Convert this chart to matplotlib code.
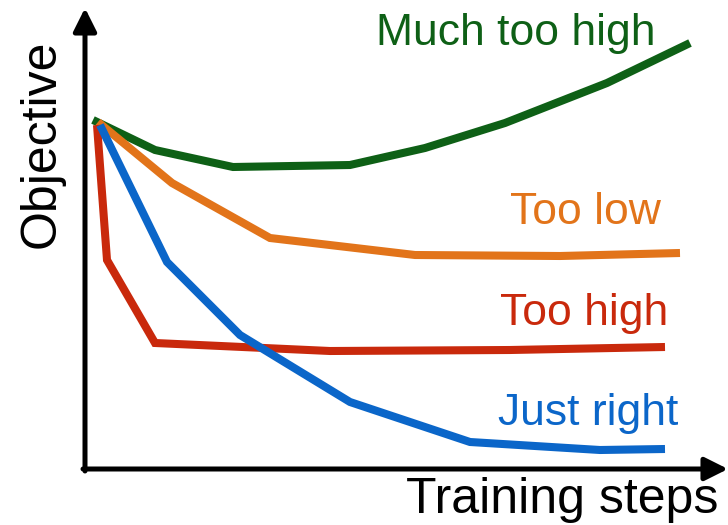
import matplotlib
matplotlib.use('Agg')
from matplotlib import pyplot as plt

plt.rcParams['font.family'] = ['Liberation Sans', 'DejaVu Sans']

# curves (x = training steps, y = objective)
green_x = [8, 70, 148, 265, 340, 420, 522, 605]
green_y = [349, 319, 302, 304, 321, 346, 386, 426]
orange_x = [13, 87, 185, 330, 475, 595]
orange_y = [347, 286, 231, 214, 213, 216]
red_x = [12, 22, 70, 245, 425, 580]
red_y = [344, 209, 126, 118, 119, 122]
blue_x = [15, 82, 155, 265, 385, 515, 580]
blue_y = [344, 207, 134, 67, 27, 19, 20]

labels = ['Much too high', 'Too low', 'Too high', 'Just right']
colors = ['#0e6016', '#e2741a', '#c9290c', '#0b66c9']

fig = plt.figure(figsize=(7.28, 5.25), dpi=100)
ax = fig.add_axes([0, 0, 1, 1])
ax.set_xlim(-85, 643)
ax.set_ylim(-56, 469)
ax.axis('off')

lw = 5.8
ax.plot(green_x, green_y, color=colors[0], lw=lw, solid_joinstyle='miter', solid_capstyle='butt')
ax.plot(orange_x, orange_y, color=colors[1], lw=lw, solid_joinstyle='miter', solid_capstyle='butt')
ax.plot(red_x, red_y, color=colors[2], lw=lw, solid_joinstyle='miter', solid_capstyle='butt')
ax.plot(blue_x, blue_y, color=colors[3], lw=lw, solid_joinstyle='miter', solid_capstyle='butt')

# axes with arrow heads
arr = dict(arrowstyle='-|>,head_length=1.4,head_width=0.7', lw=3.6, color='black',
           shrinkA=0, shrinkB=0)
ax.annotate('', xy=(0, 461), xytext=(0, -2), arrowprops=arr)
ax.annotate('', xy=(643, 0), xytext=(-2, 0), arrowprops=arr)

fs = 32
ax.text(570, 435, labels[0], color=colors[0], fontsize=fs, ha='right', va='center')
ax.text(576, 256, labels[1], color=colors[1], fontsize=fs, ha='right', va='center')
ax.text(583, 155, labels[2], color=colors[2], fontsize=fs, ha='right', va='center')
ax.text(593, 55, labels[3], color=colors[3], fontsize=fs, ha='right', va='center')

ax.text(633, -31, 'Training steps', fontsize=36, ha='right', va='center')
ax.text(-43, 325, 'Objective', fontsize=36, rotation=90, ha='center', va='center')

fig.savefig('out.png', dpi=100)
